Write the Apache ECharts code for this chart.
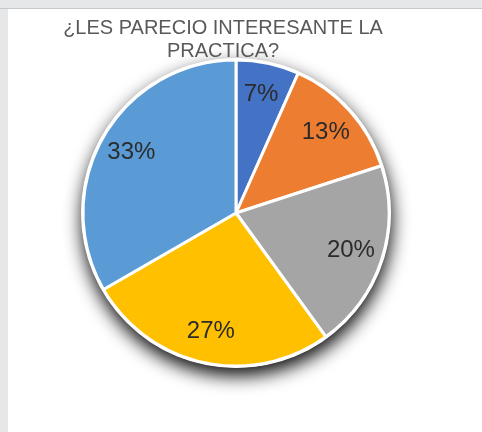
<!DOCTYPE html>
<html>
<head>
<meta charset="utf-8">
<script src="https://cdn.jsdelivr.net/npm/echarts@6/dist/echarts.min.js"></script>
<style>
  html, body { margin: 0; padding: 0; background: #fff; }
  #chart { width: 482px; height: 432px; }
</style>
</head>
<body>
<div id="chart"></div>
<script>
  // datos (respuestas por opcion)
  let categorias = ['Nada', 'Poco', 'Regular', 'Bastante', 'Mucho'];
  let respuestas = [1, 2, 3, 4, 5];
  let colores = ['#4472C4', '#ED7D31', '#A5A5A5', '#FFC000', '#5B9BD5'];
  let titulo = '¿LES PARECIO INTERESANTE LA\nPRACTICA?';

  let centro = [236, 213];
  let radio = 153;

  let myChart = echarts.init(document.getElementById('chart'));

  let datos = categorias.map((c, i) => ({ name: c, value: respuestas[i] }));

  let option = {
    backgroundColor: '#fff',
    animation: false,
    color: colores,
    title: {
      text: titulo,
      left: 218,
      top: 12,
      textAlign: 'center',
      textStyle: {
        fontFamily: 'Liberation Sans',
        fontSize: 20,
        fontWeight: 'normal',
        color: '#595959',
        lineHeight: 23
      }
    },
    graphic: [
      { type: 'rect', left: 0, top: 0, shape: { width: 482, height: 8 }, style: { fill: '#e6e7e9' }, z: 100 },
      { type: 'rect', left: 0, top: 8, shape: { width: 482, height: 1 }, style: { fill: '#c6c7c9' }, z: 100 },
      { type: 'rect', left: 0, top: 9, shape: { width: 8, height: 423 }, style: { fill: '#e6e7e9' }, z: 100 }
    ],
    series: [
      {
        // sombra debajo del pastel
        type: 'pie',
        silent: true,
        z: 1,
        center: centro,
        radius: radio + 2,
        label: { show: false },
        labelLine: { show: false },
        itemStyle: {
          color: '#fff',
          shadowBlur: 18,
          shadowOffsetX: 1,
          shadowOffsetY: 8,
          shadowColor: 'rgba(0, 0, 0, 0.95)'
        },
        data: [{ name: 'sombra', value: 1 }]
      },
      {
        type: 'pie',
        z: 2,
        center: centro,
        radius: radio,
        startAngle: 90,
        clockwise: true,
        label: { show: false },
        labelLine: { show: false },
        itemStyle: {
          borderColor: '#fff',
          borderWidth: 3
        },
        data: datos
      },
      {
        // solo etiquetas, mas hacia afuera que 'inside'
        type: 'pie',
        silent: true,
        z: 3,
        center: centro,
        radius: radio * 1.54,
        startAngle: 90,
        percentPrecision: 0,
        itemStyle: { color: 'rgba(0,0,0,0)' },
        labelLine: { show: false },
        label: {
          show: true,
          position: 'inside',
          formatter: '{d}%',
          fontFamily: 'Liberation Sans',
          fontSize: 24,
          color: '#2b2b2b'
        },
        data: datos
      }
    ]
  };
  myChart.setOption(option);
</script>
</body>
</html>
